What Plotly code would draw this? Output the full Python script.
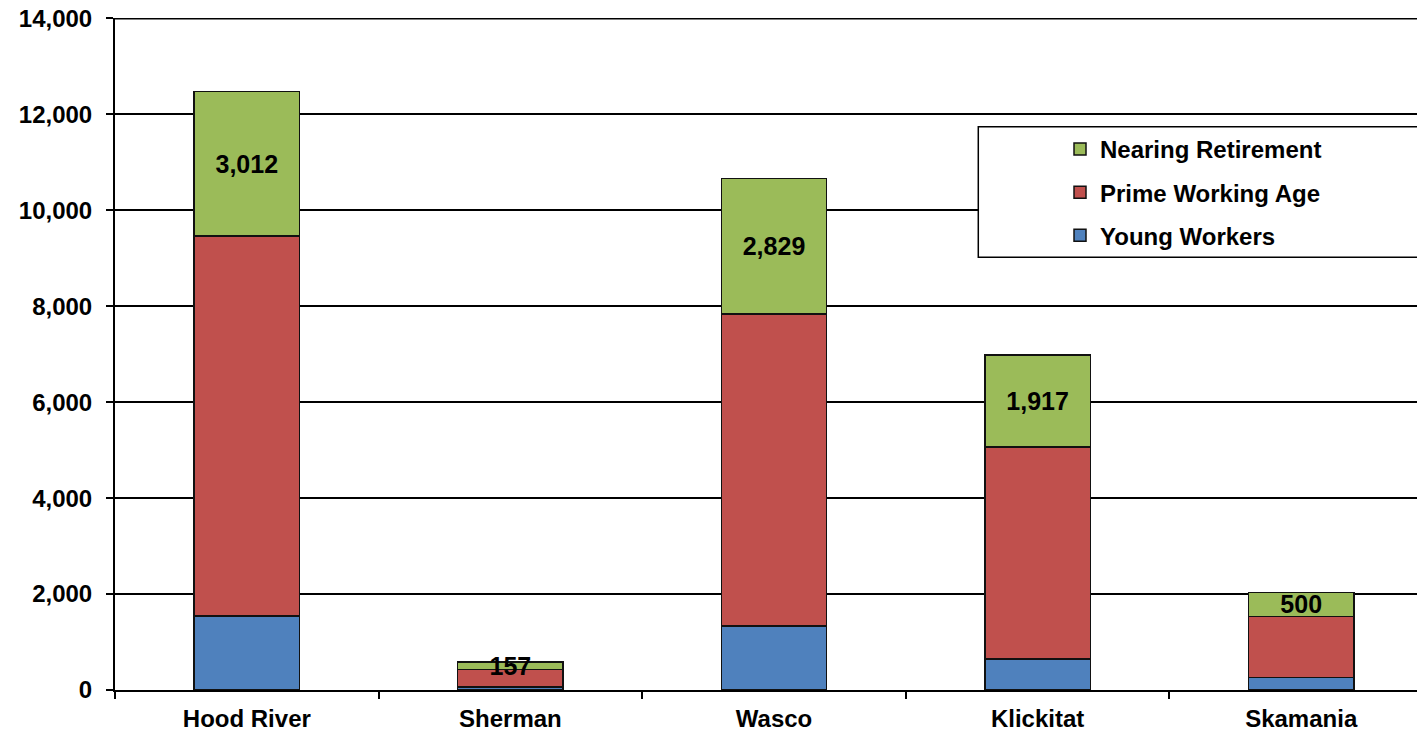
import plotly.graph_objects as go

categories = ["Hood River", "Sherman", "Wasco", "Klickitat", "Skamania"]
young_workers = [1542, 60, 1333, 646, 265]
prime_working_age = [7925, 366, 6505, 4416, 1270]
nearing_retirement = [3012, 157, 2829, 1917, 500]
y_ticks = [0, 2000, 4000, 6000, 8000, 10000, 12000, 14000]

FONT = "Liberation Sans, Arial, sans-serif"

def bfont(size):
    return dict(family=FONT, size=size, color="black", weight="bold")

fig = go.Figure()
fig.add_trace(go.Bar(x=categories, y=young_workers, name="Young Workers",
                     legendgroup="a", legendrank=3,
                     marker=dict(color="#4F81BD", line=dict(color="#111111", width=1.5))))
fig.add_trace(go.Bar(x=categories, y=prime_working_age, name="Prime Working Age",
                     legendgroup="b", legendrank=2,
                     marker=dict(color="#C0504D", line=dict(color="#111111", width=1.5))))
fig.add_trace(go.Bar(x=categories, y=nearing_retirement, name="Nearing Retirement",
                     legendgroup="c", legendrank=1,
                     text=[f"{v:,}" for v in nearing_retirement],
                     textposition="inside", insidetextanchor="middle",
                     constraintext="none", textangle=0,
                     textfont=bfont(25),
                     marker=dict(color="#9BBB59", line=dict(color="#111111", width=1.5))))

fig.update_layout(
    barmode="stack",
    bargap=0.6,
    width=1425, height=732,
    margin=dict(l=107, r=0, t=10, b=50, autoexpand=False),
    paper_bgcolor="white", plot_bgcolor="white",
    font=bfont(24),
    showlegend=True,
    legend=dict(x=0.717, y=0.838, xanchor="left", yanchor="top",
                traceorder="grouped", tracegroupgap=9,
                bgcolor="rgba(0,0,0,0)", borderwidth=0,
                font=bfont(24)),
    shapes=[dict(type="rect", xref="paper", yref="paper",
                 x0=0.655, x1=1.2, y0=0.644, y1=0.838,
                 line=dict(color="black", width=1.5), fillcolor="white",
                 layer="above"),
            dict(type="line", xref="paper", yref="y",
                 x0=0, x1=1, y0=y_ticks[-1], y1=y_ticks[-1],
                 line=dict(color="black", width=2), layer="below")],
)
fig.update_xaxes(showline=True, linecolor="black", linewidth=2,
                 ticks="outside", ticklen=7, tickwidth=2, tickcolor="black",
                 tickson="boundaries", ticklabelstandoff=6, automargin=False,
                 tickfont=bfont(24),
                 showgrid=False)
fig.update_yaxes(range=[0, 14008], tickvals=y_ticks, tickformat=",",
                 showline=True, linecolor="black", linewidth=2,
                 ticks="outside", ticklen=7, tickwidth=2, tickcolor="black",
                 ticklabelstandoff=9, ticklabeloverflow="allow", automargin=False,
                 tickfont=bfont(24),
                 showgrid=True, gridcolor="black", gridwidth=2,
                 zeroline=False)

fig.write_html("out.html")
